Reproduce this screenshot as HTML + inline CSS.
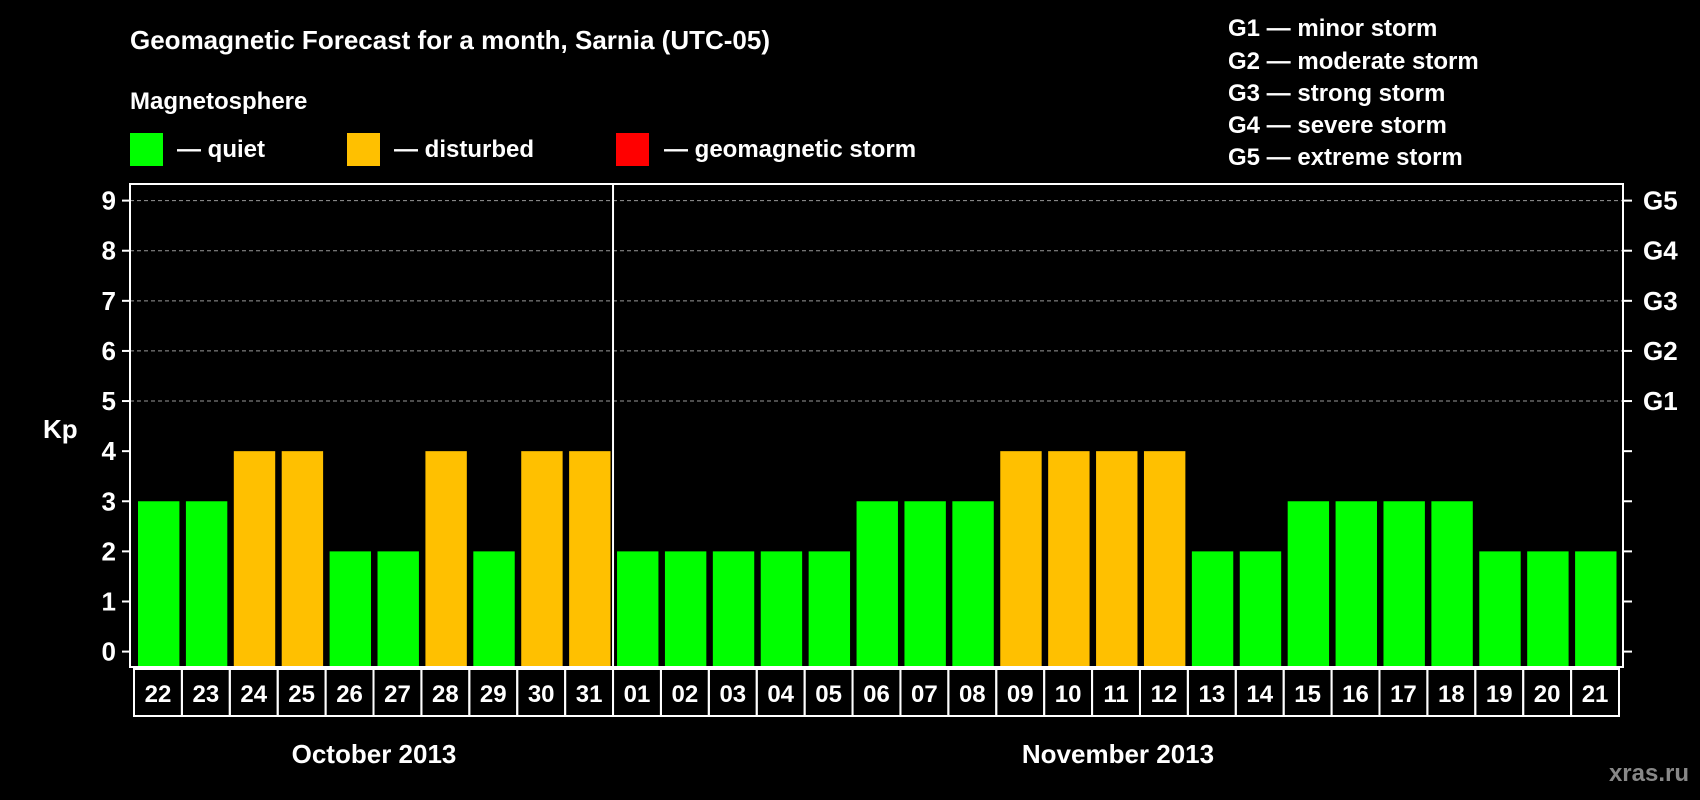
<!DOCTYPE html>
<html><head><meta charset="utf-8"><style>
body{margin:0;background:#000;}
svg{display:block;font-family:"Liberation Sans",Arial,sans-serif;font-weight:bold;}
</style></head><body>
<svg id="c" width="1700" height="800" viewBox="0 0 1700 800">
<rect width="1700" height="800" fill="#000"/>
<text x="130" y="49" fill="#fff" font-size="26">Geomagnetic Forecast for a month, Sarnia (UTC-05)</text>
<text x="130" y="109" fill="#fff" font-size="24">Magnetosphere</text>
<rect x="130" y="133" width="33" height="33" fill="#00ff00"/>
<text x="177" y="157" fill="#fff" font-size="24">— quiet</text>
<rect x="347" y="133" width="33" height="33" fill="#ffc000"/>
<text x="394" y="157" fill="#fff" font-size="24">— disturbed</text>
<rect x="616" y="133" width="33" height="33" fill="#ff0000"/>
<text x="664" y="157" fill="#fff" font-size="24">— geomagnetic storm</text>
<g fill="#fff" font-size="24">
<text x="1228" y="36">G1 — minor storm</text>
<text x="1228" y="69">G2 — moderate storm</text>
<text x="1228" y="101">G3 — strong storm</text>
<text x="1228" y="133">G4 — severe storm</text>
<text x="1228" y="165">G5 — extreme storm</text>
</g>
<text x="43" y="438" fill="#fff" font-size="26">Kp</text>
<g id="grid"></g><g id="bars"></g><g id="axes"></g>
<text x="374" y="763" fill="#fff" font-size="26" text-anchor="middle">October 2013</text>
<text x="1118" y="763" fill="#fff" font-size="26" text-anchor="middle">November 2013</text>
<text x="1689" y="781" fill="#888" font-size="24" text-anchor="end">xras.ru</text>
</svg>
<script>
const days=["22","23","24","25","26","27","28","29","30","31","01","02","03","04","05","06","07","08","09","10","11","12","13","14","15","16","17","18","19","20","21"];
const kp=[3,3,4,4,2,2,4,2,4,4,2,2,2,2,2,3,3,3,4,4,4,4,2,2,3,3,3,3,2,2,2];
const yTicks=[0,1,2,3,4,5,6,7,8,9];
const gLabels=["G1","G2","G3","G4","G5"];
const NS="http://www.w3.org/2000/svg";
const L=130,R=1623,T=184,B=667,Y0=651.6,Y9=200.6;
const y=v=>Y0+(Y9-Y0)*v/9;
const step=(R-4-134)/days.length;
const x=i=>134+i*step;
function mk(tag,attrs,parent){const e=document.createElementNS(NS,tag);for(const k in attrs)e.setAttribute(k,attrs[k]);parent.appendChild(e);return e;}
const grid=document.getElementById('grid'),bars=document.getElementById('bars'),axes=document.getElementById('axes');
yTicks.forEach(v=>{
 if(v>=5){const g=mk('line',{x1:L,x2:R,y1:y(v),y2:y(v),stroke:'#999','stroke-dasharray':'4,3','stroke-width':1},grid);
 
 }
 const t=mk('line',{x1:L-8,x2:L,y1:y(v),y2:y(v),stroke:'#fff','stroke-width':2},axes);
 
 
 const t2=mk('line',{x1:R,x2:R+9,y1:y(v),y2:y(v),stroke:'#fff','stroke-width':2},axes);
 
 
 const lb=mk('text',{x:L-14,y:y(v)+9,fill:'#fff','font-size':26,'text-anchor':'end'},axes);lb.textContent=v;
 
 
});
gLabels.forEach((g,i)=>{const t=mk('text',{x:R+20,y:y(5+i)+9,fill:'#fff','font-size':26},axes);t.textContent=g;
 
 });
days.forEach((d,i)=>{
 const v=kp[i];const col=v>=5?'#ff0000':(v>=4?'#ffc000':'#00ff00');
 const b=mk('rect',{x:x(i)+4,y:y(v),width:step-6.5,height:B-1-y(v),fill:col},bars);
 
 
 const c=mk('rect',{x:x(i),y:B+2,width:step,height:47,fill:'none',stroke:'#fff','stroke-width':2},axes);
 
 
 const t=mk('text',{x:x(i)+step/2,y:B+35,fill:'#fff','font-size':24,'text-anchor':'middle'},axes);t.textContent=d;
 
 
});
const fr=mk('rect',{x:L,y:T,width:R-L,height:B-T,fill:'none',stroke:'#fff','stroke-width':2},axes);


const dv=mk('line',{x1:x(10),x2:x(10),y1:T,y2:B,stroke:'#fff','stroke-width':2},axes);


</script>
</body></html>
